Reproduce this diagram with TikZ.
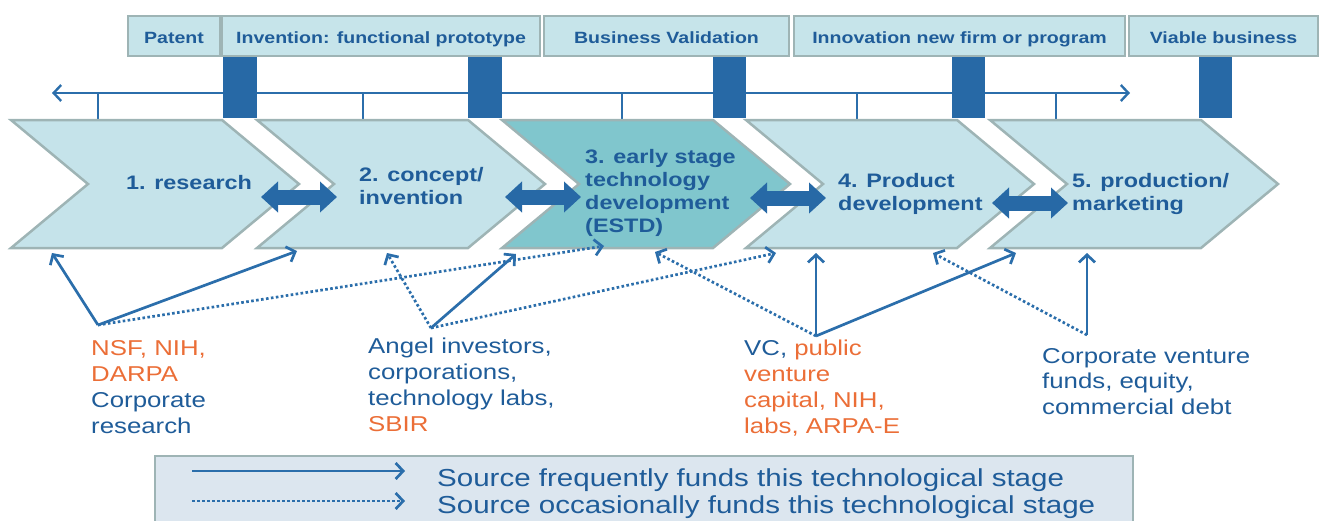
\documentclass[tikz,border=0pt]{standalone}
\usepackage{fontspec}
\newfontfamily\diafont{Liberation Sans}[FakeStretch=1.2]
\usetikzlibrary{arrows.meta}
\definecolor{boxfill}{HTML}{C6E4EA}
\definecolor{boxline}{HTML}{9EB4B5}
\definecolor{chevfill}{HTML}{C5E3EA}
\definecolor{chevmid}{HTML}{80C6CD}
\definecolor{barblue}{HTML}{2769A6}
\definecolor{txtblue}{HTML}{1F5C99}
\definecolor{arrowblue}{HTML}{2B6EAB}
\definecolor{fundorange}{HTML}{EB6E37}
\definecolor{legendfill}{HTML}{DCE6EF}
\begin{document}
\begin{tikzpicture}[x=1pt,y=-1pt,
  topbox/.style={draw=boxline, line width=2.5pt, fill=boxfill, text=txtblue,
    font=\diafont\bfseries\fontsize{16.3}{19}\selectfont,
    minimum height=40pt, text height=17pt, text depth=3pt, inner sep=0pt},
  chevron/.style={draw=boxline, line width=2.5pt, fill=chevfill, line join=miter},
  stagetext/.style={anchor=base west, inner sep=0pt, text=txtblue,
    font=\diafont\bfseries\fontsize{19.5}{23}\selectfont},
  fundtext/.style={anchor=base west, inner sep=0pt, text=txtblue,
    font=\diafont\fontsize{21.5}{26}\selectfont},
  legendtext/.style={anchor=base west, inner sep=0pt, text=txtblue,
    font=\diafont\fontsize{24.6}{27}\selectfont},
  linkarrow/.style={draw=barblue, line width=15pt,
    {Triangle[length=17pt,width=30pt]}-{Triangle[length=17pt,width=30pt]}},
  often/.style={draw=arrowblue, line width=2.7pt,
    -{Straight Barb[length=7.5pt,width=16pt]}},
  seldom/.style={often, dash pattern=on 2.6pt off 2.4pt},
  tick/.style={draw=arrowblue, line width=2.4pt}]
\useasboundingbox (0,0) rectangle (1324,520);

% milestone labels
\node[topbox, minimum width=92pt]  (patent)    at (174,36)    {Patent};
\node[topbox, minimum width=318pt] (invention) at (381,36)    {Invention: functional prototype};
\node[topbox, minimum width=245pt] (validate)  at (666.5,36)  {Business Validation};
\node[topbox, minimum width=331pt] (newfirm)   at (959.5,36)  {Innovation new firm or program};
\node[topbox, minimum width=189pt] (viable)    at (1223.5,36) {Viable business};

% time line with ticks
\coordinate (tl) at (52,93);
\coordinate (tr) at (1130,93);
\draw[tick, {Straight Barb[length=7.5pt,width=16pt]}-{Straight Barb[length=7.5pt,width=16pt]}] (tl) -- (tr);
\foreach \x in {98,363,622,857,1056} \draw[tick] (\x,93) -- (\x,119);

% milestone bars
\foreach \x/\w in {223/34,468/34,713/33,952/33,1199/33}
  \fill[barblue] (\x,57) rectangle ++(\w,61);

% stage chevrons
\foreach \l/\c in {11/chevfill,257/chevfill,502/chevmid,746/chevfill,990/chevfill}
  \draw[chevron, fill=\c] (\l,120) -- ++(211,0) -- ++(77,64) -- ++(-77,64)
    -- ++(-211,0) -- ++(77,-64) -- cycle;

% stage names
\node[stagetext] (s1)  at (126,189) {1. research};
\node[stagetext] (s2a) at (359,181) {2. concept/};
\node[stagetext] (s2b) at (359,204) {invention};
\node[stagetext] (s3a) at (585,163) {3. early stage};
\node[stagetext] (s3b) at (585,186) {technology};
\node[stagetext] (s3c) at (585,209) {development};
\node[stagetext] (s3d) at (585,232) {(ESTD)};
\node[stagetext] (s4a) at (838,187) {4. Product};
\node[stagetext] (s4b) at (838,210) {development};
\node[stagetext] (s5a) at (1072,187) {5. production/};
\node[stagetext] (s5b) at (1072,210) {marketing};

% links between neighbouring stages
\coordinate (l12a) at (261,197);  \coordinate (l12b) at (337,197);
\coordinate (l23a) at (505,197);  \coordinate (l23b) at (581,197);
\coordinate (l34a) at (750,198);  \coordinate (l34b) at (826,198);
\coordinate (l45a) at (992,203);  \coordinate (l45b) at (1068,203);
\draw[linkarrow] (l12a) -- (l12b);
\draw[linkarrow] (l23a) -- (l23b);
\draw[linkarrow] (l34a) -- (l34b);
\draw[linkarrow] (l45a) -- (l45b);

% funding sources
\node[fundtext, text=fundorange] (f1a) at (91,355) {NSF, NIH,};
\node[fundtext, text=fundorange] (f1b) at (91,381) {DARPA};
\node[fundtext] (f1c) at (91,407) {Corporate};
\node[fundtext] (f1d) at (91,433) {research};

\node[fundtext] (f2a) at (368,353) {Angel investors,};
\node[fundtext] (f2b) at (368,379) {corporations,};
\node[fundtext] (f2c) at (368,405) {technology labs,};
\node[fundtext, text=fundorange] (f2d) at (368,431) {SBIR};

\node[fundtext] (f3a) at (744,355) {VC, \textcolor{fundorange}{public}};
\node[fundtext, text=fundorange] (f3b) at (744,381) {venture};
\node[fundtext, text=fundorange] (f3c) at (744,407) {capital, NIH,};
\node[fundtext, text=fundorange] (f3d) at (744,433) {labs, ARPA-E};

\node[fundtext] (f4a) at (1042,363) {Corporate venture};
\node[fundtext] (f4b) at (1042,388) {funds, equity,};
\node[fundtext] (f4c) at (1042,414) {commercial debt};

% funding arrows: sources and the stages they reach
\coordinate (src1) at (98,325);
\coordinate (src2) at (431,328);
\coordinate (src3) at (816,336);
\coordinate (src4) at (1087,335);
\coordinate (t1a) at (52,253);   \coordinate (t1b) at (297,251);  \coordinate (t1c) at (604,246);
\coordinate (t2a) at (387,253);  \coordinate (t2b) at (516,254);  \coordinate (t2c) at (776,253);
\coordinate (t3a) at (655,252);  \coordinate (t3b) at (816,253);  \coordinate (t3c) at (1016,253);
\coordinate (t4a) at (1087,253); \coordinate (t4b) at (933,253);
\draw[often]  (src1) -- (t1a);
\draw[often]  (src1) -- (t1b);
\draw[seldom] (src1) -- (t1c);
\draw[seldom] (src2) -- (t2a);
\draw[often]  (src2) -- (t2b);
\draw[seldom] (src2) -- (t2c);
\draw[seldom] (src3) -- (t3a);
\draw[often]  (src3) -- (t3b);
\draw[often]  (src3) -- (t3c);
\draw[often]  (src4) -- (t4a);
\draw[seldom] (src4) -- (t4b);

% legend
\draw[draw=boxline, line width=2.5pt, fill=legendfill] (155,456) rectangle (1133,540);
\coordinate (ka) at (192,471); \coordinate (kb) at (405,471);
\coordinate (kc) at (192,501); \coordinate (kd) at (405,501);
\draw[often]  (ka) -- (kb);
\draw[seldom] (kc) -- (kd);
\node[legendtext] (leg1) at (437,486) {Source frequently funds this technological stage};
\node[legendtext] (leg2) at (437,513) {Source occasionally funds this technological stage};
\end{tikzpicture}
\end{document}
